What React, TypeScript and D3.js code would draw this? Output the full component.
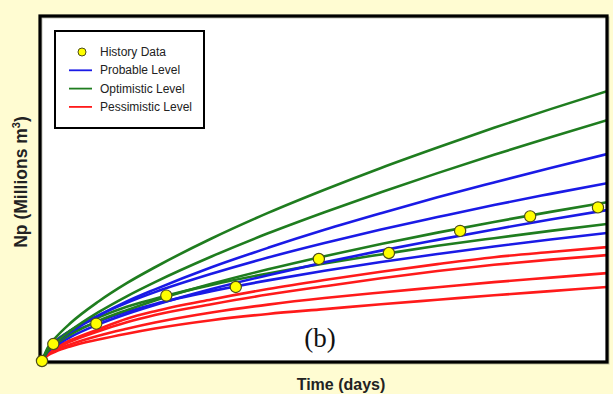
import React from "react";
import * as d3 from "d3";

const W = 613;
const H = 394;

// Time samples (days, arbitrary units since the axis has no ticks)
const times = [0, 10, 25, 50, 100, 150, 200, 300, 400, 500, 600, 700, 800, 900, 1000];

// Optimistic (green) forecasts
const optimistic1 = [0, 3.8, 6.9, 10.9, 17.2, 22.5, 27.1, 35.4, 42.8, 49.5, 55.8, 61.7, 67.4, 72.8, 78.0];
const optimistic2 = [0, 2.8, 5.4, 8.7, 14.1, 18.7, 22.8, 30.2, 36.9, 43.0, 48.8, 54.3, 59.6, 64.7, 69.6];
const optimistic3 = [0, 2.9, 5.0, 7.6, 11.6, 14.7, 17.5, 22.3, 26.5, 30.3, 33.8, 37.1, 40.2, 43.1, 45.9];
const optimistic4 = [0, 3.3, 5.9, 8.8, 12.6, 15.7, 18.0, 22.0, 25.3, 28.2, 30.8, 33.3, 35.5, 37.6, 39.6];

// Probable (blue) forecasts
const probable1 = [0, 2.9, 5.3, 8.3, 13.1, 17.2, 20.7, 27.1, 32.7, 37.9, 42.7, 47.3, 51.6, 55.8, 59.8];
const probable2 = [0, 3.4, 5.8, 8.7, 13.2, 16.8, 19.9, 25.2, 29.9, 34.1, 38.0, 41.6, 45.1, 48.3, 51.4];
const probable3 = [0, 2.6, 4.5, 6.9, 10.6, 13.6, 16.2, 20.8, 24.8, 28.5, 31.9, 35.0, 38.0, 40.9, 43.6];
const probable4 = [0, 3.1, 5.4, 8.0, 11.4, 14.2, 16.5, 20.2, 23.3, 26.1, 28.6, 30.9, 33.1, 35.1, 37.0];

// Pessimistic (red) forecasts
const pessimistic1 = [0, 2.3, 4.0, 6.0, 9.2, 12.2, 14.4, 17.8, 20.8, 23.4, 25.8, 28.0, 30.0, 31.5, 32.9];
const pessimistic2 = [0, 2.1, 3.7, 5.6, 8.6, 11.2, 13.3, 16.4, 19.2, 21.6, 23.9, 26.0, 27.8, 29.3, 30.6];
const pessimistic3 = [0, 1.8, 3.2, 4.8, 7.3, 9.3, 11.1, 14.0, 16.3, 18.2, 19.8, 21.3, 22.8, 24.1, 25.4];
const pessimistic4 = [0, 1.6, 2.8, 4.2, 6.2, 7.9, 9.4, 11.8, 13.6, 15.0, 16.4, 17.7, 19.0, 20.2, 21.4];

// History data
const historyTimes = [0, 20, 96, 220, 343, 490, 614, 740, 864, 984];
const historyNp = [0, 4.9, 10.8, 18.9, 21.4, 29.5, 31.2, 37.6, 41.8, 44.4];

const GREEN = "#1f7d1f";
const BLUE = "#1a1ae6";
const RED = "#ff1a1a";

const seriesList = [
  { values: pessimistic4, color: RED },
  { values: pessimistic3, color: RED },
  { values: pessimistic2, color: RED },
  { values: pessimistic1, color: RED },
  { values: probable4, color: BLUE },
  { values: optimistic4, color: GREEN },
  { values: probable3, color: BLUE },
  { values: optimistic3, color: GREEN },
  { values: probable2, color: BLUE },
  { values: probable1, color: BLUE },
  { values: optimistic2, color: GREEN },
  { values: optimistic1, color: GREEN },
];

const legendItems = [
  { label: "History Data", type: "point", color: "#ffff00" },
  { label: "Probable Level", type: "line", color: BLUE },
  { label: "Optimistic Level", type: "line", color: GREEN },
  { label: "Pessimistic Level", type: "line", color: RED },
];

export default function App() {
  const frame = { left: 40, top: 16, right: 607, bottom: 362 };
  const x = d3.scaleLinear().domain([0, 1000]).range([42, 607]);
  const y = d3.scaleLinear().domain([0, 100]).range([361, 15]);

  const line = d3
    .line<number>()
    .x((_, i) => x(times[i]))
    .y((d) => y(d))
    .curve(d3.curveMonotoneX);

  const sans = "'Liberation Sans', Arial, Helvetica, sans-serif";

  return (
    <svg
      width={W}
      height={H}
      style={{ position: "absolute", left: 0, top: 0, display: "block" }}
    >
      <rect x={0} y={0} width={W} height={H} fill="#fffcd2" />
      <rect
        x={frame.left}
        y={frame.top}
        width={frame.right - frame.left}
        height={frame.bottom - frame.top}
        fill="#ffffff"
      />
      <defs>
        <clipPath id="plotClip">
          <rect
            x={frame.left}
            y={frame.top}
            width={frame.right - frame.left}
            height={frame.bottom - frame.top}
          />
        </clipPath>
      </defs>
      <g clipPath="url(#plotClip)">
        {seriesList.map((s, i) => (
          <path
            key={i}
            d={line(s.values) || ""}
            fill="none"
            stroke={s.color}
            strokeWidth={2.6}
          />
        ))}
      </g>
      {/* shadow + frame */}
      <rect
        x={frame.left + 1.5}
        y={frame.top + 1.5}
        width={frame.right - frame.left}
        height={frame.bottom - frame.top}
        fill="none"
        stroke="#8a8a70"
        strokeWidth={2}
        opacity={0.5}
      />
      <rect
        x={frame.left}
        y={frame.top}
        width={frame.right - frame.left}
        height={frame.bottom - frame.top}
        fill="none"
        stroke="#000"
        strokeWidth={3.2}
      />
      {historyTimes.map((t, i) => (
        <circle
          key={i}
          cx={x(t)}
          cy={y(historyNp[i])}
          r={5.6}
          fill="#ffff00"
          stroke="#4d4d1a"
          strokeWidth={1.2}
        />
      ))}
      {/* legend */}
      <rect x={55} y={31} width={149} height={97} fill="#fff" stroke="#000" strokeWidth={2} />
      {legendItems.map((it, i) => {
        const cy = 52 + i * 18.3;
        return (
          <g key={it.label}>
            {it.type === "point" ? (
              <circle cx={82} cy={cy} r={4} fill={it.color} stroke="#4d4d1a" strokeWidth={1} />
            ) : (
              <line x1={69} x2={92} y1={cy} y2={cy} stroke={it.color} strokeWidth={1.8} />
            )}
            <text
              x={100}
              y={cy + 4}
              fontFamily={sans}
              fontSize={12}
              fill="#222"
            >
              {it.label}
            </text>
          </g>
        );
      })}
      <text
        x={320}
        y={347}
        textAnchor="middle"
        fontFamily="'Liberation Serif', 'Times New Roman', serif"
        fontSize={27}
        fill="#111"
      >
        (b)
      </text>
      <text
        x={341}
        y={390}
        textAnchor="middle"
        fontFamily={sans}
        fontWeight="bold"
        fontSize={16}
        fill="#222"
      >
        Time (days)
      </text>
      <text
        transform="translate(27,182) rotate(-90)"
        textAnchor="middle"
        fontFamily={sans}
        fontWeight="bold"
        fontSize={17.5}
        fill="#222"
      >
        Np (Millions m
        <tspan fontSize={11} dy={-7}>
          3
        </tspan>
        <tspan dy={7}>)</tspan>
      </text>
    </svg>
  );
}
